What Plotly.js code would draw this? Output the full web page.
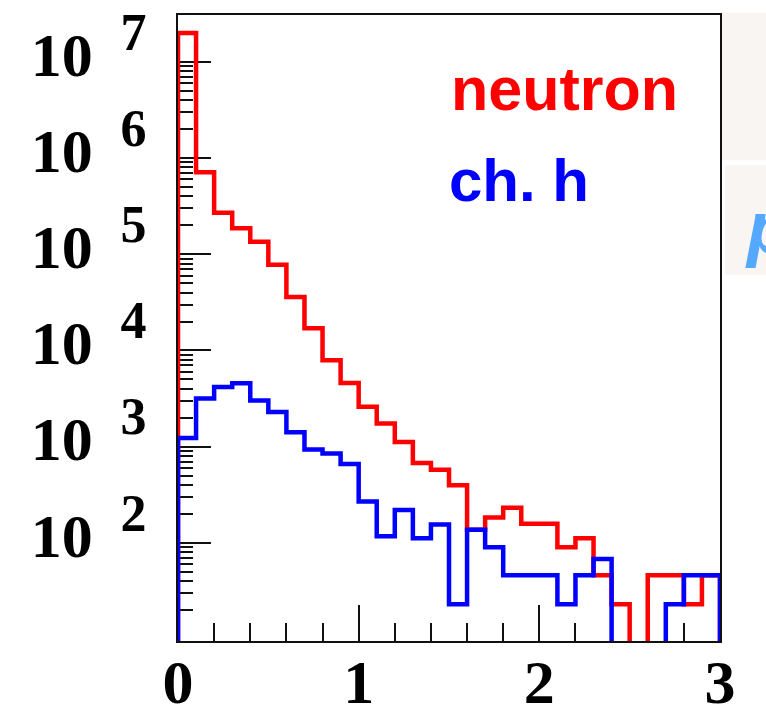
<!DOCTYPE html>
<html>
<head>
<meta charset="utf-8">
<script src="https://cdn.plot.ly/plotly-3.0.1.min.js"></script>
<style>html,body{margin:0;padding:0;background:#fff;}#chart{width:766px;height:713px;}</style>
</head>
<body>
<div id="chart"></div>
<script>
// Bin edges (x axis)
const binEdges = [0.0,0.1,0.2,0.3,0.4,0.5,0.6,0.7,0.8,0.9,1.0,1.1,1.2,1.3,1.4,1.5,1.6,1.7,1.8,1.9,2.0,2.1,2.2,2.3,2.4,2.5,2.6,2.7,2.8,2.9,3.0];

// Histogram contents, one value per bin
const neutron = [2.0e7, 7.1e5, 2.7e5, 1.86e5, 1.35e5, 7.8e4, 3.6e4, 1.7e4, 7900, 4600,
                 2600, 1740, 1120, 676, 575, 398, 137, 183, 232, 158,
                 158, 90, 112, 46, 23, 0, 46, 46, 23, 46];
const chargedH = [1230, 3160, 4170, 4570, 3020, 2290, 1410, 933, 851, 661,
                  269, 117, 219, 112, 155, 23, 137, 90, 46, 46,
                  46, 23, 46, 68, 0, 0, 0, 23, 46, 46];

const seriesNames = ['neutron', 'ch. h'];
const xTickVals = [0, 1, 2, 3];
const xTickText = ['0', '1', '2', '3'];
const yExponents = [2, 3, 4, 5, 6, 7];

const FLOOR = 1; // empty bins drawn down past the axis (clipped)

function stepOutline(vals) {
  const xs = [binEdges[0]], ys = [FLOOR];
  for (let i = 0; i < vals.length; i++) {
    const v = vals[i] > 0 ? vals[i] : FLOOR;
    xs.push(binEdges[i], binEdges[i + 1]);
    ys.push(v, v);
  }
  xs.push(binEdges[binEdges.length - 1]);
  ys.push(FLOOR);
  return {x: xs, y: ys};
}

const colors = ['#ff0000', '#0000ff'];
const traces = [neutron, chargedH].map((vals, k) => {
  const p = stepOutline(vals);
  return {
    type: 'scatter', mode: 'lines', x: p.x, y: p.y, name: seriesNames[k],
    line: {color: colors[k], width: 4.5, shape: 'linear'},
    hoverinfo: 'skip', showlegend: false
  };
});

const yTickVals = yExponents.map(e => Math.pow(10, e));
const yTickText = yExponents.map(e => '10 &#8201;<sup><span style="font-size:52px">' + e + '</span></sup>');
const yMinor = [];
for (let e = 0; e <= 7; e++) for (let d = 2; d <= 9; d++) yMinor.push(d * Math.pow(10, e));

const tickFont = {family: '"Liberation Serif", "Times New Roman", serif', size: 62, color: '#000', weight: 'bold'};

const layout = {
  width: 766, height: 713,
  margin: {l: 178, r: 46, t: 15, b: 72, pad: 0},
  paper_bgcolor: '#ffffff', plot_bgcolor: '#ffffff',
  showlegend: false,
  xaxis: {
    range: [0, 3], showgrid: false, zeroline: false,
    showline: true, mirror: true, linecolor: '#111', linewidth: 2,
    layer: 'below traces',
    ticks: 'inside', ticklen: 36, tickwidth: 2, tickcolor: '#111',
    tickmode: 'array', tickvals: xTickVals, ticktext: xTickText,
    tickfont: tickFont, ticklabelstandoff: -14,
    minor: {dtick: 0.2, tick0: 0, ticks: 'inside', ticklen: 18, tickwidth: 2, tickcolor: '#111', showgrid: false}
  },
  yaxis: {
    type: 'log', range: [0.98, 7.487], showgrid: false, zeroline: false,
    showline: true, mirror: true, linecolor: '#111', linewidth: 2,
    layer: 'below traces',
    ticks: 'inside', ticklen: 33, tickwidth: 2, tickcolor: '#111',
    tickmode: 'array', tickvals: yTickVals, ticktext: yTickText,
    tickfont: tickFont, ticklabelstandoff: 17, ticklabelshift: -8,
    minor: {tickmode: 'array', tickvals: yMinor, ticks: 'inside', ticklen: 15, tickwidth: 2, tickcolor: '#111', showgrid: false}
  },
  shapes: [
    {type: 'rect', xref: 'paper', yref: 'paper', x0: 1.0037, x1: 1.1, y0: 0.768, y1: 1.0035, fillcolor: '#f8f5f3', line: {width: 0}, layer: 'below'},
    {type: 'rect', xref: 'paper', yref: 'paper', x0: 1.0092, x1: 1.1, y0: 0.585, y1: 0.760, fillcolor: '#f8f5f3', line: {width: 0}, layer: 'below'}
  ],
  annotations: [
    {text: '<b>neutron</b>', xref: 'paper', yref: 'paper', x: 0.5, y: 0.882, xanchor: 'left', yanchor: 'middle', showarrow: false,
     font: {family: '"Liberation Sans", Arial, sans-serif', size: 61, color: '#ff0000'}},
    {text: '<b>ch. h</b>', xref: 'paper', yref: 'paper', x: 0.497, y: 0.7355, xanchor: 'left', yanchor: 'middle', showarrow: false,
     font: {family: '"Liberation Sans", Arial, sans-serif', size: 60, color: '#0000ff'}},
    {text: '<i><b>p</b></i>', xref: 'paper', yref: 'paper', x: 1.042, y: 0.66, xanchor: 'left', yanchor: 'middle', showarrow: false,
     font: {family: '"Liberation Sans", Arial, sans-serif', size: 74, color: '#55a8ff'}}
  ]
};

Plotly.newPlot('chart', traces, layout, {staticPlot: true, displayModeBar: false});
</script>
</body>
</html>
